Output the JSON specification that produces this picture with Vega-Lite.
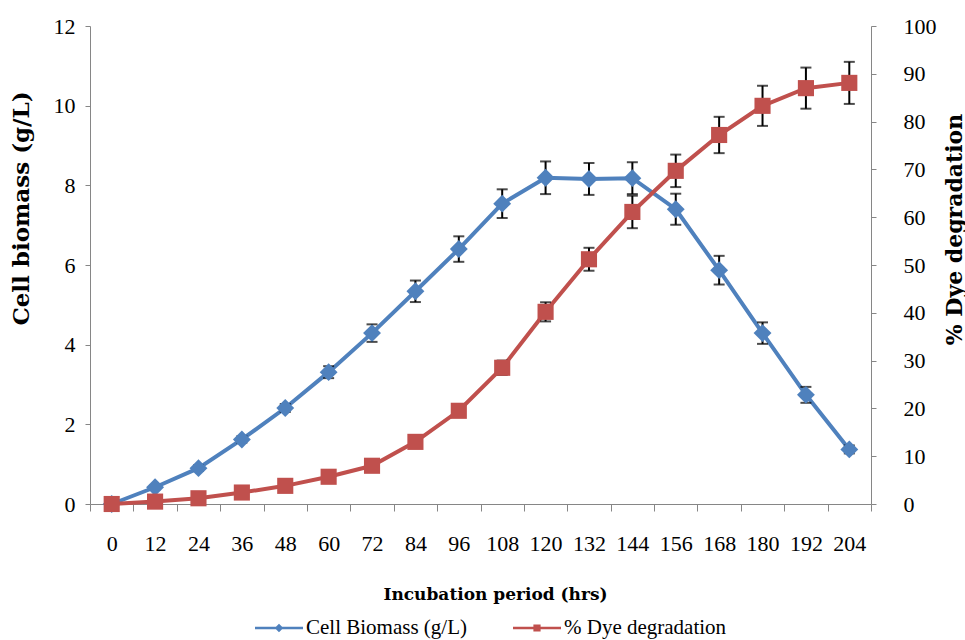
{
  "$schema": "https://vega.github.io/schema/vega-lite/v6.json",
  "width": 781,
  "height": 478,
  "autosize": {"type": "none"},
  "padding": {"left": 90, "top": 26, "right": 94, "bottom": 136},
  "background": "white",
  "data": {
    "values": [
      {"t": 0, "bio": 0.0, "bioErr": 0.03, "dye": 0.0, "dyeErr": 0.2},
      {"t": 12, "bio": 0.42, "bioErr": 0.05, "dye": 0.5, "dyeErr": 0.3},
      {"t": 24, "bio": 0.9, "bioErr": 0.07, "dye": 1.2, "dyeErr": 0.3},
      {"t": 36, "bio": 1.62, "bioErr": 0.08, "dye": 2.4, "dyeErr": 0.4},
      {"t": 48, "bio": 2.41, "bioErr": 0.1, "dye": 3.8, "dyeErr": 0.5},
      {"t": 60, "bio": 3.31, "bioErr": 0.15, "dye": 5.7, "dyeErr": 0.6},
      {"t": 72, "bio": 4.29, "bioErr": 0.22, "dye": 8.0, "dyeErr": 0.8},
      {"t": 84, "bio": 5.34, "bioErr": 0.27, "dye": 13.0, "dyeErr": 1.0},
      {"t": 96, "bio": 6.4, "bioErr": 0.32, "dye": 19.5, "dyeErr": 1.2},
      {"t": 108, "bio": 7.54, "bioErr": 0.36, "dye": 28.5, "dyeErr": 1.5},
      {"t": 120, "bio": 8.19, "bioErr": 0.41, "dye": 40.2, "dyeErr": 2.0},
      {"t": 132, "bio": 8.16, "bioErr": 0.4, "dye": 51.2, "dyeErr": 2.4},
      {"t": 144, "bio": 8.18, "bioErr": 0.4, "dye": 61.1, "dyeErr": 3.4},
      {"t": 156, "bio": 7.4, "bioErr": 0.39, "dye": 69.7, "dyeErr": 3.4},
      {"t": 168, "bio": 5.87, "bioErr": 0.36, "dye": 77.2, "dyeErr": 3.8},
      {"t": 180, "bio": 4.29, "bioErr": 0.27, "dye": 83.3, "dyeErr": 4.2},
      {"t": 192, "bio": 2.74, "bioErr": 0.2, "dye": 87.0, "dyeErr": 4.3},
      {"t": 204, "bio": 1.37, "bioErr": 0.1, "dye": 88.1, "dyeErr": 4.4}
    ]
  },
  "encoding": {
    "x": {
      "field": "t",
      "type": "ordinal",
      "bandPosition": 0.5,
      "scale": {"type": "band", "paddingInner": 0, "paddingOuter": 0},
      "axis": {
        "title": "Incubation period (hrs)",
        "labelAngle": 0,
        "tickBand": "extent",
        "tickSize": 7,
        "labelPadding": 22,
        "titlePadding": 32,
        "titleX": 405,
        "titleFont": "DejaVu Serif",
        "titleFontSize": 17,
        "titleFontWeight": "bold"
      }
    }
  },
  "layer": [
    {
      "encoding": {
        "y": {
          "field": "bio",
          "type": "quantitative",
          "scale": {"domain": [0, 12], "nice": false},
          "axis": {
            "title": "Cell biomass (g/L)",
            "orient": "left",
            "values": [0, 2, 4, 6, 8, 10, 12],
            "labelPadding": 10,
            "titlePadding": 20,
            "titleY": 182,
            "titleFont": "DejaVu Serif",
            "titleFontSize": 23,
            "titleFontWeight": "bold"
          }
        }
      },
      "layer": [
        {
          "mark": {"type": "line", "color": "#4F81BD", "strokeWidth": 4},
          "encoding": {
            "color": {
              "datum": "Cell Biomass (g/L)",
              "scale": {"domain": ["Cell Biomass (g/L)", "% Dye degradation"], "range": ["#4F81BD", "#C0504D"]},
              "legend": {
                "orient": "none",
                "legendX": 165,
                "legendY": 578,
                "direction": "horizontal",
                "title": null,
                "padding": 0,
                "columnPadding": 46,
                "labelOffset": 3,
                "labelLimit": 400,
                "labelFont": "Liberation Serif",
                "labelFontSize": 21,
                "labelColor": "black",
                "symbolSize": 2304,
                "symbolType": "M-1,-0.055L1,-0.055L1,0.055L-1,0.055Z",
                "symbolStrokeWidth": 0,
                "symbolOpacity": 1,
                "encode": {
                  "symbols": {
                    "update": {
                      "shape": {"signal": "datum.value === 'Cell Biomass (g/L)' ? 'M-1,-0.055L1,-0.055L1,0.055L-1,0.055Z M0,-0.18L0.18,0L0,0.18L-0.18,0Z' : 'M-1,-0.055L1,-0.055L1,0.055L-1,0.055Z M-0.15,-0.15L0.15,-0.15L0.15,0.15L-0.15,0.15Z'"},
                      "fill": {"signal": "datum.value === 'Cell Biomass (g/L)' ? '#4F81BD' : '#C0504D'"},
                      "fillOpacity": {"value": 1},
                      "opacity": {"value": 1},
                      "strokeWidth": {"value": 0}
                    }
                  }
                }
              }
            }
          }
        },
        {
          "mark": {"type": "errorbar", "color": "black", "thickness": 2, "ticks": {"size": 11, "thickness": 2, "color": "black"}},
          "encoding": {"yError": {"field": "bioErr"}}
        },
        {
          "mark": {"type": "point", "shape": "diamond", "filled": true, "opacity": 1, "size": 320, "color": "#4F81BD"}
        }
      ]
    },
    {
      "encoding": {
        "y": {
          "field": "dye",
          "type": "quantitative",
          "scale": {"domain": [0, 100], "nice": false},
          "axis": {
            "title": "% Dye degradation",
            "orient": "right",
            "values": [0, 10, 20, 30, 40, 50, 60, 70, 80, 90, 100],
            "labelPadding": 27,
            "titlePadding": 30,
            "titleAngle": 270,
            "titleY": 203,
            "titleFont": "DejaVu Serif",
            "titleFontSize": 22,
            "titleFontWeight": "bold"
          }
        }
      },
      "layer": [
        {
          "mark": {"type": "line", "color": "#C0504D", "strokeWidth": 4},
          "encoding": {"color": {"datum": "% Dye degradation"}}
        },
        {
          "mark": {"type": "errorbar", "color": "black", "thickness": 2, "ticks": {"size": 11, "thickness": 2, "color": "black"}},
          "encoding": {"yError": {"field": "dyeErr"}}
        },
        {
          "mark": {"type": "square", "filled": true, "opacity": 1, "size": 260, "color": "#C0504D"}
        }
      ]
    }
  ],
  "resolve": {"scale": {"y": "independent"}},
  "config": {
    "view": {"stroke": null},
    "font": "Liberation Serif",
    "axis": {
      "grid": false,
      "domainColor": "#868686",
      "tickColor": "#868686",
      "domainWidth": 1,
      "tickWidth": 1,
      "tickSize": 5,
      "labelFont": "Liberation Serif",
      "labelFontSize": 22,
      "labelColor": "black",
      "titleColor": "black"
    }
  }
}
